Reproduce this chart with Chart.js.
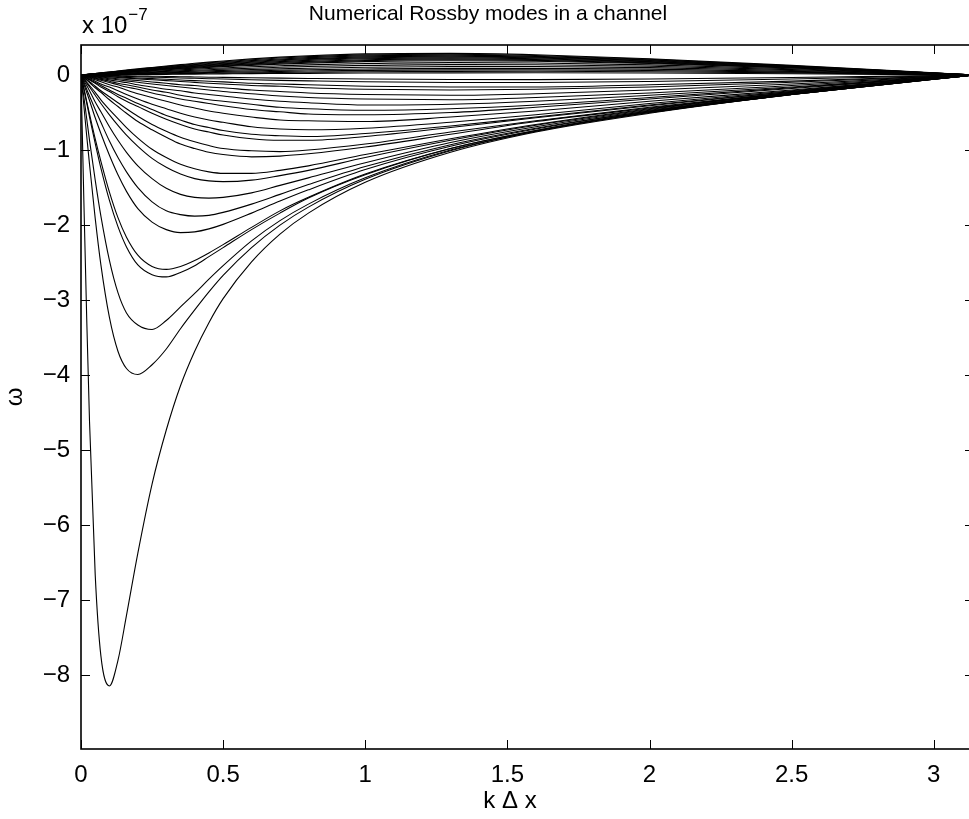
<!DOCTYPE html>
<html>
<head>
<meta charset="utf-8">
<script src="https://cdn.jsdelivr.net/npm/chart.js@4.4.1/dist/chart.umd.min.js"></script>
<style>
  html, body { margin: 0; padding: 0; background: #fff; overflow: hidden; }
  #wrap { position: absolute; left: 0; top: 0; width: 1000px; height: 819px; }
</style>
</head>
<body>
<div id="wrap"><canvas id="rossbyChart"></canvas></div>
<script>
// wavenumber k*dx shared by every mode
const kdx = [0, 0.01, 0.02, 0.03, 0.05, 0.07, 0.1, 0.13, 0.16, 0.2, 0.25, 0.3, 0.35, 0.4, 0.45, 0.5,
             0.6, 0.7, 0.8, 1.0, 1.3, 1.6, 2.0, 2.5, 3.0, 3.1416];

// frequencies in units of 1e-7, westward (negative) modes, deepest first
const w01 = [0, -1.67, -3.23, -4.62, -6.66, -7.74, -8.14, -7.80, -7.20, -6.37, -5.45, -4.73, -4.14, -3.68, -3.30, -2.98, -2.49, -2.12, -1.84, -1.43, -1.03, -0.76, -0.51, -0.26, -0.056, 0];
const w02 = [0, -0.41, -0.81, -1.19, -1.91, -2.53, -3.23, -3.68, -3.91, -3.99, -3.86, -3.65, -3.38, -3.13, -2.89, -2.67, -2.30, -2.00, -1.76, -1.39, -1.01, -0.75, -0.50, -0.26, -0.056, 0];
const w03 = [0, -0.29, -0.58, -0.87, -1.40, -1.88, -2.47, -2.90, -3.17, -3.33, -3.39, -3.27, -3.09, -2.91, -2.72, -2.54, -2.21, -1.94, -1.72, -1.37, -1.00, -0.75, -0.50, -0.26, -0.055, 0];
const w04 = [0, -0.19, -0.37, -0.56, -0.91, -1.24, -1.67, -2.02, -2.29, -2.53, -2.66, -2.69, -2.63, -2.54, -2.42, -2.30, -2.06, -1.84, -1.64, -1.33, -0.98, -0.74, -0.49, -0.26, -0.055, 0];
const w05 = [0, -0.17, -0.35, -0.52, -0.85, -1.15, -1.56, -1.90, -2.16, -2.40, -2.55, -2.59, -2.55, -2.47, -2.37, -2.26, -2.03, -1.81, -1.63, -1.32, -0.98, -0.74, -0.49, -0.26, -0.055, 0];
const w06 = [0, -0.12, -0.23, -0.34, -0.57, -0.78, -1.07, -1.33, -1.55, -1.78, -1.96, -2.06, -2.10, -2.09, -2.05, -1.99, -1.84, -1.68, -1.53, -1.26, -0.95, -0.72, -0.48, -0.25, -0.054, 0];
const w07 = [0, -0.093, -0.19, -0.28, -0.46, -0.63, -0.88, -1.10, -1.29, -1.50, -1.69, -1.81, -1.86, -1.88, -1.87, -1.83, -1.72, -1.59, -1.46, -1.22, -0.93, -0.71, -0.48, -0.25, -0.054, 0];
const w08 = [0, -0.072, -0.14, -0.21, -0.36, -0.49, -0.69, -0.87, -1.03, -1.21, -1.38, -1.51, -1.59, -1.63, -1.64, -1.63, -1.57, -1.47, -1.37, -1.17, -0.90, -0.69, -0.47, -0.25, -0.053, 0];
const w09 = [0, -0.055, -0.11, -0.16, -0.27, -0.38, -0.53, -0.67, -0.80, -0.95, -1.11, -1.23, -1.32, -1.38, -1.41, -1.42, -1.40, -1.34, -1.27, -1.10, -0.87, -0.67, -0.46, -0.24, -0.052, 0];
const w10 = [0, -0.047, -0.095, -0.14, -0.23, -0.33, -0.46, -0.58, -0.70, -0.84, -0.99, -1.10, -1.19, -1.25, -1.29, -1.31, -1.31, -1.27, -1.21, -1.06, -0.85, -0.66, -0.45, -0.24, -0.052, 0];
const w11 = [0, -0.034, -0.067, -0.10, -0.17, -0.23, -0.33, -0.42, -0.51, -0.62, -0.73, -0.83, -0.92, -0.98, -1.03, -1.06, -1.09, -1.08, -1.05, -0.96, -0.79, -0.62, -0.44, -0.23, -0.050, 0];
const w12 = [0, -0.030, -0.060, -0.089, -0.15, -0.21, -0.29, -0.37, -0.45, -0.55, -0.66, -0.75, -0.83, -0.89, -0.94, -0.98, -1.01, -1.02, -1.00, -0.92, -0.76, -0.61, -0.43, -0.23, -0.049, 0];
const w13 = [0, -0.023, -0.045, -0.068, -0.11, -0.16, -0.22, -0.29, -0.35, -0.42, -0.51, -0.59, -0.66, -0.72, -0.76, -0.80, -0.85, -0.87, -0.87, -0.82, -0.70, -0.57, -0.41, -0.22, -0.048, 0];
const w14 = [0, -0.020, -0.041, -0.061, -0.10, -0.14, -0.20, -0.26, -0.31, -0.38, -0.46, -0.54, -0.60, -0.66, -0.70, -0.74, -0.79, -0.81, -0.82, -0.78, -0.68, -0.56, -0.40, -0.22, -0.047, 0];
const w15 = [0, -0.017, -0.033, -0.050, -0.083, -0.12, -0.16, -0.21, -0.26, -0.32, -0.39, -0.45, -0.51, -0.56, -0.60, -0.63, -0.69, -0.72, -0.73, -0.71, -0.63, -0.53, -0.38, -0.21, -0.045, 0];
const w16 = [0, -0.013, -0.026, -0.038, -0.064, -0.089, -0.13, -0.16, -0.20, -0.25, -0.30, -0.35, -0.40, -0.44, -0.48, -0.51, -0.56, -0.60, -0.61, -0.62, -0.56, -0.48, -0.35, -0.20, -0.043, 0];
const w17 = [0, -0.010, -0.020, -0.030, -0.050, -0.069, -0.099, -0.13, -0.16, -0.19, -0.24, -0.28, -0.32, -0.35, -0.38, -0.41, -0.46, -0.49, -0.52, -0.53, -0.50, -0.43, -0.32, -0.18, -0.040, 0];
const w18 = [0, -0.008, -0.017, -0.025, -0.041, -0.058, -0.082, -0.11, -0.13, -0.16, -0.20, -0.23, -0.27, -0.30, -0.33, -0.35, -0.39, -0.43, -0.45, -0.47, -0.45, -0.40, -0.30, -0.17, -0.038, 0];
const w19 = [0, -0.0065, -0.013, -0.020, -0.033, -0.045, -0.065, -0.084, -0.10, -0.13, -0.16, -0.19, -0.21, -0.24, -0.26, -0.28, -0.32, -0.35, -0.37, -0.40, -0.39, -0.35, -0.27, -0.16, -0.035, 0];
const w20 = [0, -0.005, -0.010, -0.015, -0.025, -0.035, -0.049, -0.064, -0.078, -0.097, -0.12, -0.14, -0.16, -0.18, -0.20, -0.22, -0.25, -0.28, -0.30, -0.32, -0.33, -0.30, -0.24, -0.14, -0.031, 0];
const w21 = [0, -0.004, -0.008, -0.011, -0.019, -0.026, -0.038, -0.049, -0.060, -0.074, -0.092, -0.11, -0.13, -0.14, -0.16, -0.17, -0.20, -0.22, -0.24, -0.26, -0.27, -0.25, -0.20, -0.12, -0.027, 0];
const w22 = [0, -0.0026, -0.005, -0.008, -0.013, -0.018, -0.026, -0.033, -0.041, -0.051, -0.063, -0.075, -0.086, -0.098, -0.11, -0.12, -0.14, -0.15, -0.17, -0.19, -0.20, -0.19, -0.16, -0.097, -0.022, 0];
const w23 = [0, -0.002, -0.004, -0.006, -0.010, -0.014, -0.019, -0.025, -0.031, -0.039, -0.048, -0.057, -0.066, -0.075, -0.083, -0.091, -0.11, -0.12, -0.13, -0.15, -0.16, -0.16, -0.13, -0.081, -0.019, 0];
const w24 = [0, -0.001, -0.002, -0.003, -0.006, -0.008, -0.011, -0.015, -0.018, -0.023, -0.028, -0.033, -0.039, -0.044, -0.049, -0.054, -0.063, -0.071, -0.078, -0.090, -0.099, -0.099, -0.086, -0.054, -0.013, 0];
const w25 = [0, -0.0007, -0.0013, -0.002, -0.0033, -0.0046, -0.0066, -0.0085, -0.011, -0.013, -0.016, -0.019, -0.023, -0.026, -0.029, -0.031, -0.037, -0.042, -0.046, -0.053, -0.060, -0.061, -0.054, -0.034, -0.008, 0];

// eastward (positive) branch, strongest first
const e01 = [0, 0.0042, 0.0083, 0.0125, 0.021, 0.029, 0.041, 0.054, 0.066, 0.082, 0.101, 0.120, 0.138, 0.156, 0.172, 0.187, 0.215, 0.238, 0.257, 0.282, 0.289, 0.270, 0.217, 0.128, 0.029, 0];
const e02 = [0, 0.0039, 0.0079, 0.0118, 0.0196, 0.0274, 0.0391, 0.0507, 0.0621, 0.0772, 0.0956, 0.1135, 0.1307, 0.1471, 0.1627, 0.1774, 0.2039, 0.2264, 0.2447, 0.2689, 0.2773, 0.2596, 0.2095, 0.124, 0.0278, 0];
const e03 = [0, 0.0037, 0.0074, 0.011, 0.018, 0.026, 0.037, 0.048, 0.058, 0.073, 0.090, 0.107, 0.123, 0.138, 0.153, 0.167, 0.192, 0.214, 0.232, 0.255, 0.265, 0.249, 0.202, 0.120, 0.027, 0];
const e04 = [0, 0.0034, 0.0069, 0.0103, 0.0172, 0.0241, 0.0343, 0.0445, 0.0546, 0.0679, 0.0842, 0.100, 0.1152, 0.1298, 0.1438, 0.157, 0.1809, 0.2015, 0.2185, 0.2417, 0.2518, 0.2379, 0.1938, 0.1156, 0.026, 0];
const e05 = [0, 0.0032, 0.0065, 0.0097, 0.016, 0.023, 0.032, 0.042, 0.051, 0.064, 0.079, 0.094, 0.108, 0.122, 0.135, 0.148, 0.171, 0.190, 0.207, 0.229, 0.240, 0.228, 0.186, 0.112, 0.025, 0];
const e06 = [0, 0.003, 0.0061, 0.0091, 0.0151, 0.0212, 0.0302, 0.0392, 0.048, 0.0598, 0.0741, 0.0881, 0.1016, 0.1146, 0.127, 0.1388, 0.1604, 0.1791, 0.1948, 0.2168, 0.228, 0.2172, 0.1786, 0.1073, 0.0242, 0];
const e07 = [0, 0.0028, 0.0056, 0.0084, 0.014, 0.020, 0.028, 0.036, 0.045, 0.056, 0.069, 0.082, 0.094, 0.107, 0.118, 0.129, 0.149, 0.167, 0.182, 0.203, 0.215, 0.206, 0.170, 0.103, 0.023, 0];
const e08 = [0, 0.0026, 0.0052, 0.0079, 0.0131, 0.0183, 0.0261, 0.0338, 0.0415, 0.0517, 0.0641, 0.0762, 0.088, 0.0993, 0.1102, 0.1206, 0.1397, 0.1564, 0.1706, 0.1912, 0.203, 0.1951, 0.162, 0.0981, 0.0223, 0];
const e09 = [0, 0.0024, 0.0048, 0.0072, 0.012, 0.017, 0.024, 0.031, 0.038, 0.048, 0.059, 0.070, 0.081, 0.092, 0.102, 0.112, 0.129, 0.145, 0.158, 0.178, 0.190, 0.184, 0.153, 0.093, 0.021, 0];
const e10 = [0, 0.002, 0.0041, 0.0061, 0.010, 0.014, 0.020, 0.026, 0.032, 0.040, 0.050, 0.059, 0.069, 0.078, 0.086, 0.094, 0.110, 0.123, 0.135, 0.153, 0.165, 0.161, 0.135, 0.083, 0.019, 0];
const e11 = [0, 0.0017, 0.0033, 0.005, 0.0083, 0.012, 0.017, 0.022, 0.027, 0.033, 0.041, 0.049, 0.057, 0.064, 0.071, 0.078, 0.091, 0.103, 0.113, 0.128, 0.139, 0.137, 0.117, 0.072, 0.017, 0];
const e12 = [0, 0.0013, 0.0027, 0.004, 0.0066, 0.0093, 0.013, 0.017, 0.021, 0.026, 0.033, 0.039, 0.045, 0.051, 0.057, 0.062, 0.073, 0.082, 0.091, 0.104, 0.114, 0.113, 0.098, 0.061, 0.014, 0];
const e13 = [0, 0.001, 0.002, 0.003, 0.005, 0.007, 0.010, 0.013, 0.016, 0.020, 0.025, 0.030, 0.034, 0.039, 0.043, 0.048, 0.056, 0.063, 0.070, 0.080, 0.089, 0.089, 0.078, 0.049, 0.011, 0];
const e14 = [0, 0.0008, 0.0015, 0.0023, 0.0038, 0.0053, 0.0076, 0.0099, 0.012, 0.015, 0.019, 0.023, 0.026, 0.030, 0.033, 0.036, 0.042, 0.048, 0.053, 0.062, 0.069, 0.069, 0.061, 0.039, 0.009, 0];
const e15 = [0, 0.0005, 0.0011, 0.0016, 0.0027, 0.0037, 0.0053, 0.0069, 0.0085, 0.011, 0.013, 0.016, 0.018, 0.021, 0.023, 0.025, 0.030, 0.034, 0.037, 0.043, 0.049, 0.050, 0.044, 0.028, 0.0066, 0];
const e16 = [0, 0.0003, 0.0006, 0.0009, 0.0016, 0.0022, 0.0031, 0.004, 0.005, 0.0062, 0.0077, 0.0092, 0.011, 0.012, 0.0135, 0.015, 0.018, 0.020, 0.022, 0.026, 0.029, 0.030, 0.027, 0.017, 0.004, 0];

const modes = [w01, w02, w03, w04, w05, w06, w07, w08, w09, w10, w11, w12, w13,
               w14, w15, w16, w17, w18, w19, w20, w21, w22, w23, w24, w25,
               e01, e02, e03, e04, e05, e06, e07, e08, e09, e10, e11, e12,
               e13, e14, e15, e16];

const xTicks = [0, 0.5, 1, 1.5, 2, 2.5, 3];
const yTicks = [-8, -7, -6, -5, -4, -3, -2, -1, 0];

const FONT = '"Liberation Sans", Arial, Helvetica, sans-serif';

// box, inward tick marks and the text around the axes
const axesFrame = {
    id: 'axesFrame',
    afterDraw(chart) {
        const { ctx, chartArea: a, scales: { x, y } } = chart;
        ctx.save();
        ctx.strokeStyle = '#000';
        ctx.lineWidth = 1.6;
        ctx.strokeRect(a.left, a.top, a.right - a.left, a.bottom - a.top);

        ctx.lineWidth = 1;
        ctx.beginPath();
        xTicks.forEach(v => {
            const px = Math.round(x.getPixelForValue(v)) + 0.5;
            ctx.moveTo(px, a.bottom); ctx.lineTo(px, a.bottom - 9);
            ctx.moveTo(px, a.top); ctx.lineTo(px, a.top + 9);
        });
        yTicks.forEach(v => {
            const py = Math.round(y.getPixelForValue(v)) + 0.5;
            ctx.moveTo(a.left, py); ctx.lineTo(a.left + 9, py);
            ctx.moveTo(a.right, py); ctx.lineTo(a.right - 9, py);
        });
        ctx.stroke();

        ctx.fillStyle = '#000';
        ctx.textBaseline = 'alphabetic';

        ctx.font = '21px ' + FONT;
        ctx.textAlign = 'center';
        ctx.fillText('Numerical Rossby modes in a channel', 488, 20);

        ctx.font = '24px ' + FONT;
        ctx.fillText('k \u0394 x', 510, 808);

        // exponent note above the y axis
        ctx.textAlign = 'left';
        ctx.fillText('x 10', 82, 33);
        const w = ctx.measureText('x 10').width;
        ctx.font = '17px ' + FONT;
        ctx.fillText('\u22127', 82 + w + 1, 20);

        ctx.font = '24px ' + FONT;
        ctx.translate(22, 397);
        ctx.rotate(-Math.PI / 2);
        ctx.textAlign = 'center';
        ctx.fillText('\u03c9', 0, 0);
        ctx.restore();
    }
};

const ctx = document.getElementById('rossbyChart').getContext('2d');

new Chart(ctx, {
    type: 'line',
    data: {
        datasets: modes.map(m => ({
            data: kdx.map((k, i) => ({ x: k, y: m[i] })),
            borderColor: '#000',
            borderWidth: 1.1,
            pointRadius: 0,
            fill: false,
            cubicInterpolationMode: 'monotone'
        }))
    },
    options: {
        responsive: true,
        maintainAspectRatio: false,
        animation: false,
        events: [],
        layout: { padding: { left: 0, top: 45, right: 26, bottom: 0 } },
        plugins: { legend: { display: false }, tooltip: { enabled: false } },
        scales: {
            x: {
                type: 'linear',
                min: 0,
                max: Math.PI,
                grid: { display: false, drawTicks: false },
                border: { display: false },
                afterBuildTicks: s => { s.ticks = xTicks.map(v => ({ value: v })); },
                afterFit: s => { s.height = 70; },
                ticks: {
                    padding: 12,
                    autoSkip: false,
                    maxRotation: 0,
                    color: '#000',
                    font: { family: FONT, size: 24 },
                    callback: v => String(v)
                }
            },
            y: {
                type: 'linear',
                min: -8.98,
                max: 0.4,
                grid: { display: false, drawTicks: false },
                border: { display: false },
                afterBuildTicks: s => { s.ticks = yTicks.map(v => ({ value: v })); },
                afterFit: s => { s.width = 81; },
                ticks: {
                    padding: 11,
                    color: '#000',
                    font: { family: FONT, size: 24 },
                    callback: v => (v < 0 ? '\u2212' + Math.abs(v) : String(v))
                }
            }
        }
    },
    plugins: [axesFrame]
});
</script>
</body>
</html>
